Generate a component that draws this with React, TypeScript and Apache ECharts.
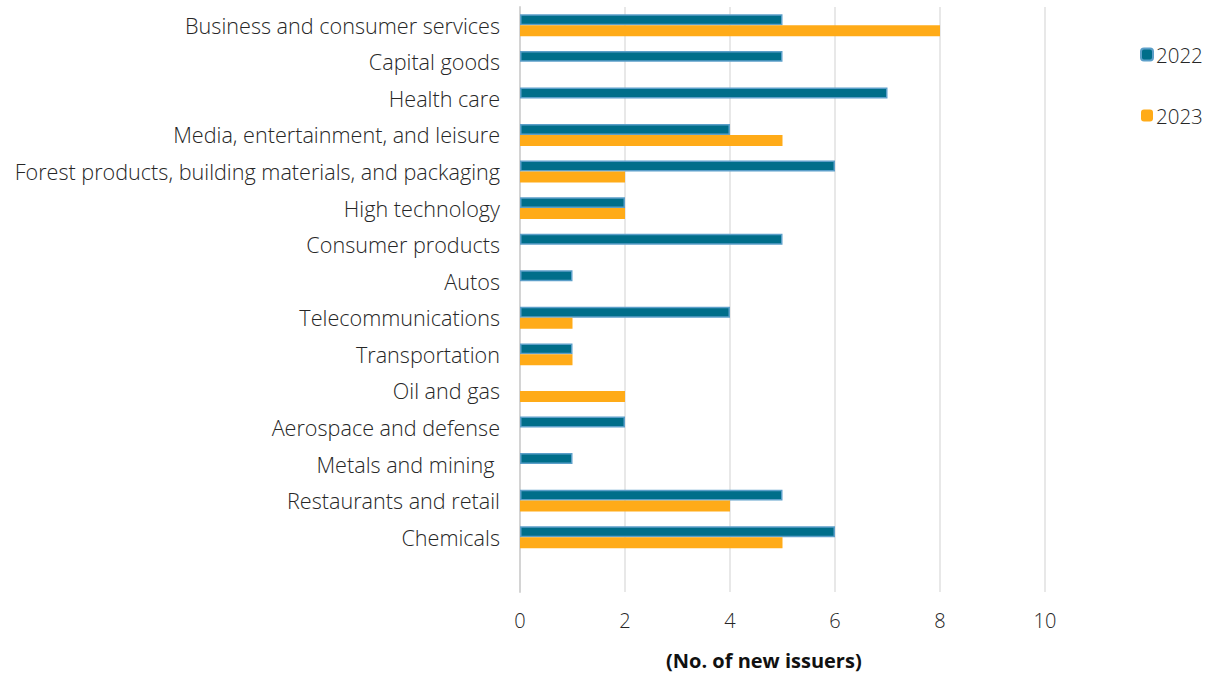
import React, { useEffect, useRef } from "react";
import * as echarts from "echarts";

const categories = [
  "Business and consumer services",
  "Capital goods",
  "Health care",
  "Media, entertainment, and leisure",
  "Forest products, building materials, and packaging",
  "High technology",
  "Consumer products",
  "Autos",
  "Telecommunications",
  "Transportation",
  "Oil and gas",
  "Aerospace and defense",
  "Metals and mining ",
  "Restaurants and retail",
  "Chemicals",
  "",
];
const values2022 = [5, 5, 7, 4, 6, 2, 5, 1, 4, 1, null, 2, 1, 5, 6, null];
const values2023 = [8, null, null, 5, 2, 2, null, null, 1, 1, 2, null, null, 4, 5, null];
const xTicks = { min: 0, max: 10, interval: 2 };
const axisName = "(No. of new issuers)";

const FONT = "'Open Sans'";
const TEXT = "#262626";

export default function App() {
  const ref = useRef<HTMLDivElement>(null);
  useEffect(() => {
    if (!ref.current) return;
    const chart = echarts.init(ref.current, undefined, { renderer: "svg" });
    chart.setOption({
      animation: false,
      grid: { left: 520, right: 162, top: 7, bottom: 83, containLabel: false },
      legend: {
        orient: "vertical",
        left: 1135,
        top: 39,
        itemWidth: 12,
        itemHeight: 12,
        itemGap: 40,
        textStyle: { fontFamily: FONT, fontWeight: 300, fontSize: 20.5, color: TEXT, padding: [0, 0, 0, -2] },
        data: ["2022", "2023"],
      },
      xAxis: {
        type: "value",
        min: xTicks.min,
        max: xTicks.max,
        interval: xTicks.interval,
        axisLine: { show: false },
        axisTick: { show: false },
        splitLine: { show: true, lineStyle: { color: "#e0e0e0", width: 1.5 } },
        axisLabel: { fontFamily: FONT, fontWeight: 300, fontSize: 20, color: TEXT, margin: 18 },
      },
      yAxis: {
        type: "category",
        data: categories,
        inverse: true,
        axisLine: { show: true, lineStyle: { color: "#d4d4d4", width: 2 } },
        axisTick: { show: false },
        axisLabel: { fontFamily: FONT, fontWeight: 300, fontSize: 21.6, color: TEXT, margin: 20 },
      },
      graphic: [
        {
          type: "text",
          left: 666,
          top: 650,
          style: { text: axisName, font: `bold 20px ${FONT}`, fill: "#111" },
        },
      ],
      series: [
        {
          name: "2022",
          type: "bar",
          data: values2022,
          barGap: "0%",
          barCategoryGap: "40%",
          itemStyle: { color: "#006E8A", borderColor: "#5c9fc9", borderWidth: 1.5 },
        },
        {
          name: "2023",
          type: "bar",
          data: values2023,
          itemStyle: { color: "#FFAB18" },
        },
      ],
    });
    return () => chart.dispose();
  }, []);
  return <div ref={ref} style={{ width: 1207, height: 675, position: "absolute", left: 0, top: 0 }} />;
}
